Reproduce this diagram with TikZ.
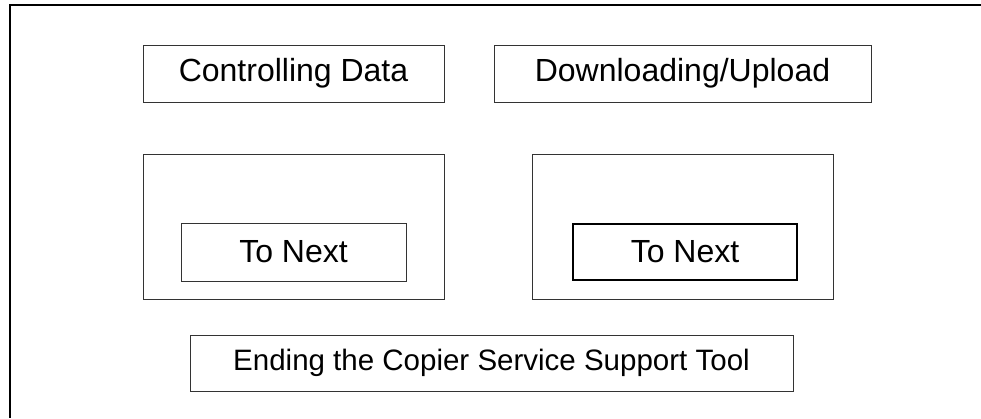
\documentclass[tikz,border=0pt]{standalone}
\usepackage{fontspec}
\setmainfont{Liberation Sans}
\begin{document}
\begin{tikzpicture}[x=1pt,y=-1pt,
  box/.style={draw=black!80, line width=1pt, rectangle, inner sep=0pt, font=\fontsize{32}{38}\selectfont},
  boldbox/.style={box, draw=black, line width=2pt}]
\useasboundingbox (0,0) rectangle (981,418);
\coordinate (tr) at (981,5);
\coordinate (tl) at (10,5);
\coordinate (bl) at (10,418);
\draw[line width=1.5pt] (tr) -- (tl) -- (bl);
\node[box, minimum width=301pt, minimum height=57pt] (ctrl) at (293.5,73.5) {Controlling Data};
\node[box, minimum width=377pt, minimum height=57pt] (down) at (682.5,73.5) {Downloading/Upload};
\node[box, minimum width=301pt, minimum height=145pt] (left) at (293.5,226.5) {};
\node[box, minimum width=301pt, minimum height=145pt] (right) at (682.5,226.5) {};
\node[box, minimum width=225pt, minimum height=58pt] (nextl) at (293.5,252) {To Next};
\node[boldbox, minimum width=224pt, minimum height=56pt] (nextr) at (685,252) {To Next};
\node[box, minimum width=603pt, minimum height=56pt, font=\fontsize{29.5}{36}\selectfont] (end) at (491.5,363) {Ending the Copier Service Support Tool};
\end{tikzpicture}
\end{document}
